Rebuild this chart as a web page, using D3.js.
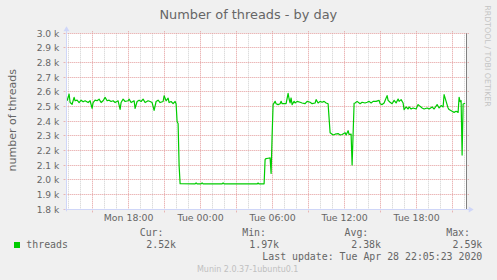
<!DOCTYPE html>
<html>
<head>
<meta charset="utf-8">
<script src="https://cdn.jsdelivr.net/npm/d3@7"></script>
<style>
  body { margin: 0; background: #f0f0f0; }
  svg { display: block; }
</style>
</head>
<body>
<script>
// threads sampled off the munin day graph (Mon 27 / Tue 28 Apr 2020)
var times = [
  "Mon 12:55","Mon 13:05","Mon 13:10","Mon 13:20","Mon 13:30","Mon 13:35","Mon 13:45","Mon 13:55",
  "Mon 14:05","Mon 14:15","Mon 14:25","Mon 14:40","Mon 14:50","Mon 15:00","Mon 15:05","Mon 15:15",
  "Mon 15:25","Mon 15:35","Mon 15:45","Mon 15:55","Mon 16:05","Mon 16:15","Mon 16:25","Mon 16:35",
  "Mon 16:45","Mon 16:55","Mon 17:10","Mon 17:20","Mon 17:25","Mon 17:35","Mon 17:45","Mon 18:00",
  "Mon 18:05","Mon 18:15","Mon 18:30","Mon 18:35","Mon 18:45","Mon 18:55","Mon 19:05","Mon 19:15",
  "Mon 19:25","Mon 19:40","Mon 19:50","Mon 20:00","Mon 20:10","Mon 20:20","Mon 20:30","Mon 20:40",
  "Mon 20:55","Mon 21:00","Mon 21:10","Mon 21:20","Mon 21:25","Mon 21:35","Mon 21:45","Mon 21:55",
  "Mon 22:00","Mon 22:05","Mon 22:10","Mon 22:15","Mon 22:20","Mon 23:35","Mon 23:40","Mon 23:45",
  "Tue 00:05","Tue 00:10","Tue 00:15","Tue 01:50","Tue 01:55","Tue 02:00","Tue 04:45","Tue 04:50",
  "Tue 04:55","Tue 05:15","Tue 05:20","Tue 05:25","Tue 05:30","Tue 05:40","Tue 05:50","Tue 05:55",
  "Tue 06:00","Tue 06:05","Tue 06:15","Tue 06:20","Tue 06:30","Tue 06:40","Tue 06:45","Tue 06:50",
  "Tue 07:00","Tue 07:10","Tue 07:20","Tue 07:25","Tue 07:30","Tue 07:35","Tue 07:40","Tue 07:50",
  "Tue 07:55","Tue 08:05","Tue 08:20","Tue 08:30","Tue 08:45","Tue 08:55","Tue 09:10","Tue 09:20",
  "Tue 09:35","Tue 09:40","Tue 09:50","Tue 10:00","Tue 10:10","Tue 10:20","Tue 10:30","Tue 10:40",
  "Tue 10:45","Tue 10:50","Tue 11:05","Tue 11:15","Tue 11:30","Tue 11:40","Tue 11:50","Tue 12:05",
  "Tue 12:10","Tue 12:20","Tue 12:25","Tue 12:35","Tue 12:40","Tue 12:50","Tue 12:55","Tue 13:05",
  "Tue 13:20","Tue 13:30","Tue 13:45","Tue 13:55","Tue 14:05","Tue 14:15","Tue 14:25","Tue 14:40",
  "Tue 14:55","Tue 15:00","Tue 15:10","Tue 15:20","Tue 15:35","Tue 15:40","Tue 15:50","Tue 16:00",
  "Tue 16:10","Tue 16:20","Tue 16:30","Tue 16:35","Tue 16:45","Tue 16:55","Tue 17:00","Tue 17:10",
  "Tue 17:20","Tue 17:25","Tue 17:35","Tue 17:45","Tue 18:00","Tue 18:10","Tue 18:20","Tue 18:30",
  "Tue 18:40","Tue 18:55","Tue 19:05","Tue 19:20","Tue 19:30","Tue 19:45","Tue 19:55","Tue 20:05",
  "Tue 20:15","Tue 20:20","Tue 20:30","Tue 20:40","Tue 20:45","Tue 21:00","Tue 21:10","Tue 21:20",
  "Tue 21:30","Tue 21:35","Tue 21:40","Tue 21:45","Tue 21:50","Tue 21:55","Tue 22:05"
];
var threads = [
  2540,2586,2528,2516,2563,2540,2544,2528,
  2544,2533,2540,2528,2540,2488,2528,2544,
  2540,2551,2528,2540,2563,2540,2544,2535,
  2540,2528,2540,2481,2528,2551,2535,2540,
  2551,2528,2540,2488,2535,2544,2535,2551,
  2528,2540,2535,2528,2474,2535,2544,2528,
  2535,2574,2540,2558,2528,2535,2521,2535,
  2520,2397,2385,2100,1975,1973,1980,1973,
  1974,1980,1973,1973,1980,1973,1973,1979,
  1973,1974,1974,2140,2146,2148,2150,2045,
  2300,2514,2536,2520,2514,2520,2536,2520,
  2520,2520,2590,2552,2525,2559,2514,2536,
  2525,2536,2530,2525,2520,2536,2530,2520,
  2525,2548,2525,2536,2530,2536,2525,2520,
  2420,2322,2307,2312,2316,2307,2310,2322,
  2307,2336,2310,2312,2102,2523,2525,2536,
  2520,2530,2525,2530,2536,2525,2536,2536,
  2543,2520,2514,2525,2575,2543,2530,2520,
  2543,2525,2552,2536,2548,2525,2480,2498,
  2484,2498,2484,2491,2484,2514,2502,2491,
  2484,2491,2484,2498,2484,2514,2491,2507,
  2498,2582,2536,2491,2480,2468,2461,2468,
  2461,2564,2534,2541,2170,2518,2523
];

var yTicks = [1800,1900,2000,2100,2200,2300,2400,2500,2600,2700,2800,2900,3000];
var xLabels = ["Mon 18:00","Tue 00:00","Tue 06:00","Tue 12:00","Tue 18:00"];
var timeSpan = ["Mon 12:53","Tue 22:13"];
var nowMark = "Tue 22:10";

var statHeads = ["Cur:","Min:","Avg:","Max:"];
var statVals = ["2.52k","1.97k","2.38k","2.59k"];
var lastUpdate = "Last update: Tue Apr 28 22:05:23 2020";

var dayOf = {Mon: 27, Tue: 28};
function parseT(s) {
  var p = s.split(" "), hm = p[1].split(":");
  return new Date(2020, 3, dayOf[p[0]], +hm[0], +hm[1]);
}

var W = 497, H = 280;
var pL = 66.7, pR = 466.7, pT = 33.3, pB = 209.3;
var sans = "'DejaVu Sans', sans-serif", mono = "'DejaVu Sans Mono', monospace";
var fontCol = "#666666", axisCol = "#cfd6f8", mgrid = "#e39a9a", grid = "#cfcfcf";

var svg = d3.select("body").append("svg")
    .attr("width", W).attr("height", H);

svg.append("rect").attr("width", W).attr("height", H).attr("fill", "#f0f0f0");

var x = d3.scaleTime()
    .domain(timeSpan.map(parseT))
    .range([pL, pR]);
var y = d3.scaleLinear()
    .domain([1800, 3000])
    .range([pB, pT]);

var px = function(v) { return Math.floor(v) + 0.5; };

// canvas
svg.append("rect")
    .attr("x", pL).attr("y", pT)
    .attr("width", pR - pL).attr("height", pB - pT)
    .attr("fill", "#fff");

// minor grid, every hour
var hours = d3.timeHour.range(x.domain()[0], x.domain()[1]);
svg.append("g").selectAll("line")
    .data(hours.filter(function(d) { return d.getHours() % 3 != 0; }))
    .join("line")
    .attr("x1", function(d) { return px(x(d)); })
    .attr("x2", function(d) { return px(x(d)); })
    .attr("y1", pT).attr("y2", pB)
    .attr("stroke", grid).attr("stroke-dasharray", "1,1");

// major grid, every 3 hours
var majors = hours.filter(function(d) { return d.getHours() % 3 == 0; });
svg.append("g").selectAll("line")
    .data(majors)
    .join("line")
    .attr("x1", function(d) { return px(x(d)); })
    .attr("x2", function(d) { return px(x(d)); })
    .attr("y1", pT - 2)
    .attr("y2", function(d) { return d.getHours() % 6 == 0 ? pB : pB + 3; })
    .attr("stroke", mgrid).attr("stroke-dasharray", "1,1");

// horizontal grid
svg.append("g").selectAll("line")
    .data(yTicks)
    .join("line")
    .attr("x1", pL - 3).attr("x2", pR + 3)
    .attr("y1", function(d) { return px(y(d)); })
    .attr("y2", function(d) { return px(y(d)); })
    .attr("stroke", mgrid).attr("stroke-dasharray", "1,1");

// y labels
var yAxis = svg.append("g")
    .attr("transform", "translate(" + pL + ",0)")
    .call(d3.axisLeft(y).tickValues(yTicks).tickSize(0).tickPadding(7.4)
      .tickFormat(function(d) { return (d / 1000).toFixed(1) + " k"; }));
yAxis.select(".domain").remove();
yAxis.selectAll("text")
    .attr("fill", fontCol)
    .style("font-family", sans).style("font-size", "9.1px");

// x labels
var xAxis = svg.append("g")
    .attr("transform", "translate(0," + pB + ")")
    .call(d3.axisBottom(x).tickValues(xLabels.map(parseT)).tickSize(0).tickPadding(5)
      .tickFormat(d3.timeFormat("%a %H:%M")));
xAxis.select(".domain").remove();
xAxis.selectAll("text")
    .attr("fill", fontCol)
    .style("font-family", sans).style("font-size", "9.4px");

// data
var data = times.map(function(t, i) { return {time: parseT(t), value: threads[i]}; });
var line = d3.line()
    .x(function(d) { return x(d.time); })
    .y(function(d) { return y(d.value); });
svg.append("path")
    .datum(data)
    .attr("d", line)
    .attr("fill", "none")
    .attr("stroke", "#00cc00")
    .attr("stroke-width", 1.2)
    .attr("stroke-linejoin", "round");

// now marker
svg.append("line")
    .attr("x1", px(x(parseT(nowMark)))).attr("x2", px(x(parseT(nowMark))))
    .attr("y1", pT).attr("y2", pB)
    .attr("stroke", "#808080");

// axes with arrows
svg.append("line")
    .attr("x1", pL - 2).attr("x2", pR + 3)
    .attr("y1", px(pB)).attr("y2", px(pB))
    .attr("stroke", axisCol);
svg.append("path")
    .attr("d", "M" + (pR + 2) + "," + (px(pB) - 3) + "L" + (pR + 7) + "," + px(pB) +
      "L" + (pR + 2) + "," + (px(pB) + 3) + "Z")
    .attr("fill", axisCol);
svg.append("line")
    .attr("x1", px(pL)).attr("x2", px(pL))
    .attr("y1", pB + 2).attr("y2", pT - 3)
    .attr("stroke", axisCol);
svg.append("path")
    .attr("d", "M" + (px(pL) - 3) + "," + (pT - 2) + "L" + px(pL) + "," + (pT - 7) +
      "L" + (px(pL) + 3) + "," + (pT - 2) + "Z")
    .attr("fill", axisCol);

// titles
svg.append("text")
    .attr("x", 248.3).attr("y", 18.5)
    .attr("text-anchor", "middle")
    .attr("fill", fontCol)
    .style("font-family", sans).style("font-size", "12.9px")
    .text("Number of threads - by day");

svg.append("text")
    .attr("transform", "translate(15.5," + ((pT + pB) / 2 - 1) + ") rotate(-90)")
    .attr("text-anchor", "middle")
    .attr("fill", fontCol)
    .style("font-family", sans).style("font-size", "11px")
    .text("number of threads");

svg.append("text")
    .attr("transform", "translate(485,56) rotate(90)")
    .attr("text-anchor", "middle")
    .attr("fill", "#c4c4c4")
    .style("font-family", sans).style("font-size", "7.9px")
    .text("RRDTOOL / TOBI OETIKER");

// legend
svg.append("rect")
    .attr("x", 14).attr("y", 242).attr("width", 6).attr("height", 6)
    .attr("fill", "#00cc00");
svg.append("text")
    .attr("x", 26.3).attr("y", 248)
    .attr("fill", fontCol)
    .style("font-family", mono).style("font-size", "9.9px")
    .text("threads");

var headRight = [163.5, 266, 368.3, 470];
var valRight = [176, 279, 381, 482.3];
svg.append("g").selectAll("text")
    .data(statHeads)
    .join("text")
    .attr("x", function(d, i) { return headRight[i]; })
    .attr("y", 235.7)
    .attr("text-anchor", "end")
    .attr("fill", fontCol)
    .style("font-family", mono).style("font-size", "9.9px")
    .text(function(d) { return d; });
svg.append("g").selectAll("text")
    .data(statVals)
    .join("text")
    .attr("x", function(d, i) { return valRight[i]; })
    .attr("y", 248)
    .attr("text-anchor", "end")
    .attr("fill", fontCol)
    .style("font-family", mono).style("font-size", "9.9px")
    .text(function(d) { return d; });

svg.append("text")
    .attr("x", 482.3).attr("y", 259.5)
    .attr("text-anchor", "end")
    .attr("fill", fontCol)
    .style("font-family", mono).style("font-size", "9.9px")
    .text(lastUpdate);

svg.append("text")
    .attr("x", 247.7).attr("y", 271.7)
    .attr("text-anchor", "middle")
    .attr("fill", "#c0c0c0")
    .style("font-family", sans).style("font-size", "8px")
    .text("Munin 2.0.37-1ubuntu0.1");
</script>
</body>
</html>
